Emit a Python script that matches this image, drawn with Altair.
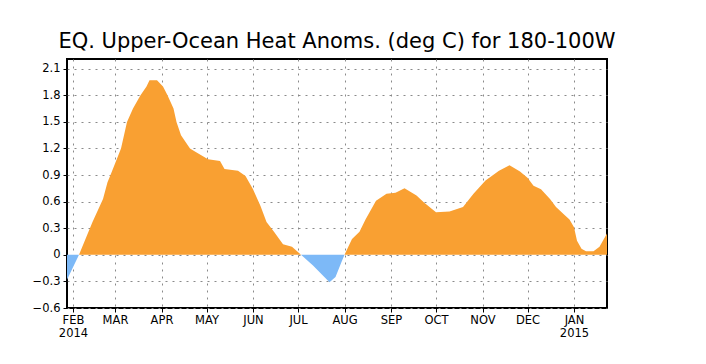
import altair as alt
import pandas as pd

# ---- data ----
dates = [
    "2014-01-28", "2014-02-05", "2014-02-14", "2014-02-21", "2014-02-24", "2014-02-26",
    "2014-03-05", "2014-03-09", "2014-03-13", "2014-03-18", "2014-03-22", "2014-03-24",
    "2014-03-29", "2014-04-02", "2014-04-05", "2014-04-09", "2014-04-11", "2014-04-14",
    "2014-04-20", "2014-04-23", "2014-05-02", "2014-05-10", "2014-05-13", "2014-05-22",
    "2014-05-27", "2014-06-01", "2014-06-06", "2014-06-10", "2014-06-15", "2014-06-21",
    "2014-06-27", "2014-07-03", "2014-07-11", "2014-07-22", "2014-07-26", "2014-07-30",
    "2014-08-01", "2014-08-06", "2014-08-11", "2014-08-15", "2014-08-22", "2014-08-29",
    "2014-09-04", "2014-09-10", "2014-09-18", "2014-09-23", "2014-10-01", "2014-10-10",
    "2014-10-19", "2014-10-26", "2014-11-03", "2014-11-12", "2014-11-19", "2014-11-26",
    "2014-12-01", "2014-12-05", "2014-12-10", "2014-12-16", "2014-12-20", "2014-12-25",
    "2014-12-29", "2015-01-01", "2015-01-03", "2015-01-06", "2015-01-09", "2015-01-14",
    "2015-01-18", "2015-01-23",
]
values = [
    -0.28, 0.0, 0.37, 0.63, 0.82, 0.90,
    1.20, 1.50, 1.65, 1.80, 1.90, 1.97,
    1.97, 1.90, 1.80, 1.65, 1.50, 1.35,
    1.20, 1.17, 1.08, 1.06, 0.97, 0.95,
    0.89, 0.74, 0.55, 0.37, 0.26, 0.12,
    0.09, 0.0, -0.12, -0.31, -0.25, -0.08,
    0.0, 0.18, 0.26, 0.40, 0.61, 0.69,
    0.70, 0.75, 0.67, 0.59, 0.48, 0.49,
    0.54, 0.69, 0.84, 0.95, 1.01, 0.94,
    0.87, 0.78, 0.74, 0.63, 0.54, 0.46,
    0.40, 0.31, 0.16, 0.07, 0.04, 0.04,
    0.09, 0.24,
]
month_ticks = [
    "2014-02-01", "2014-03-01", "2014-04-01", "2014-05-01", "2014-06-01", "2014-07-01",
    "2014-08-01", "2014-09-01", "2014-10-01", "2014-11-01", "2014-12-01", "2015-01-01",
]
y_ticks = [-0.6, -0.3, 0, 0.3, 0.6, 0.9, 1.2, 1.5, 1.8, 2.1]
x_range = ["2014-01-28", "2015-01-23"]
y_range = [-0.6, 2.21]

TITLE = "EQ. Upper-Ocean Heat Anoms. (deg C) for 180-100W"
ORANGE = "#F9A032"
BLUE = "#7DB9F7"


def dt(s):
    y, m, d = (int(p) for p in s.split("-"))
    return alt.DateTime(year=y, month=m, date=d, utc=True)


df = pd.DataFrame({"date": dates, "value": values})

common_axis = dict(
    title=None,
    grid=True,
    gridDash=[2, 5],
    gridColor="#8a8a8a",
    gridWidth=1,
    domain=False,
    ticks=True,
    tickSize=4,
    tickColor="black",
    labelOverlap=False,
    labelColor="black",
    labelFont="DejaVu Sans",
)

x_enc = alt.X(
    "date:T",
    scale=alt.Scale(type="utc", domain=[dt(s) for s in x_range], nice=False),
    axis=alt.Axis(
        values=[dt(s) for s in month_ticks],
        labelExpr="(utcmonth(datum.value) <= 1) ? [upper(utcFormat(datum.value, '%b')), utcFormat(datum.value, '%Y')] : upper(utcFormat(datum.value, '%b'))",
        labelPadding=2,
        labelAngle=0,
        labelAlign="center",
        labelFontSize=11.5,
        labelLineHeight=13,
        **common_axis,
    ),
)

y_scale = alt.Scale(domain=y_range, nice=False, zero=False)
y_axis = alt.Axis(
    values=y_ticks,
    labelExpr="datum.value == 0 ? '0' : format(datum.value, '.1f')",
    labelPadding=3,
    labelFontSize=11.5,
    **common_axis,
)

base = alt.Chart(df).transform_calculate(
    pos="max(datum.value, 0)", neg="min(datum.value, 0)"
)

pos = base.mark_area(color=ORANGE, interpolate="linear", opacity=1).encode(
    x=x_enc,
    y=alt.Y("pos:Q", scale=y_scale, axis=y_axis, stack=None),
    y2=alt.datum(0),
)
neg = base.mark_area(color=BLUE, interpolate="linear", opacity=1).encode(
    x=x_enc,
    y=alt.Y("neg:Q", scale=y_scale, axis=y_axis, stack=None),
    y2=alt.datum(0),
)

chart = (
    alt.layer(pos, neg)
    .properties(
        width=540,
        height=249,
        background="white",
        autosize=alt.AutoSizeParams(type="none"),
        padding={"left": 59, "top": 51, "right": 91, "bottom": 48},
        title=alt.TitleParams(
            TITLE,
            anchor="middle",
            frame="group",
            baseline="alphabetic",
            offset=10,
            dy=20,
            fontSize=21,
            fontWeight="normal",
            font="DejaVu Sans",
            color="black",
        ),
    )
    .configure_view(stroke="black", strokeWidth=2)
)

chart.save("out.html", embed_options={"renderer": "svg", "actions": False})
